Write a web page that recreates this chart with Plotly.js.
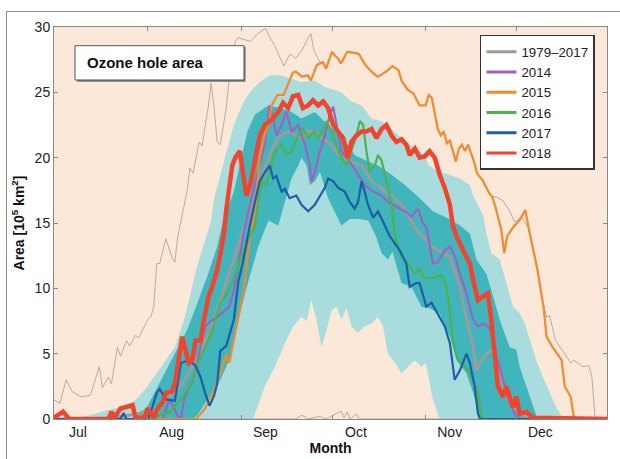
<!DOCTYPE html>
<html>
<head>
<meta charset="utf-8">
<script src="https://cdn.plot.ly/plotly-3.0.1.min.js"></script>
<style>
  html, body { margin: 0; padding: 0; background: #ffffff; }
  #frame { position: absolute; left: 6px; top: 11px; width: 640px; height: 480px;
           border-top: 1px solid #8c8c8c; border-left: 1px solid #8c8c8c; }
  #chart { position: absolute; left: 0; top: 0; width: 620px; height: 459px; }
</style>
</head>
<body>
<div id="frame"></div>
<div id="chart"></div>
<script>
// Days counted from 1 July; area in units of 10^5 km^2.
const monthStart = [0, 31, 62, 92, 123, 153];
const monthNames = ['Jul', 'Aug', 'Sep', 'Oct', 'Nov', 'Dec'];
const areaTicks = [0, 5, 10, 15, 20, 25, 30];

// 1979–2017 climatology: outer (light) and inner (dark) percentile bands
const lightLowDay  = [0,66,66.5,69.8,73.1,76.4,79.1,81.9,83.6,85.2,86.9,88.5,90.2,91.8,93.5,95.1,96.8,98.4,100.6,102.8,105.1,107.2,108.9,110.5,112.8,115,117.2,119.4,121.6,123,125.4,127.6,183];
const lightLowArea = [0,0,0.4,2.5,4.0,5.8,7.1,7.8,7.5,9.1,7.6,5.5,6.8,8.3,8.6,7.6,8.5,7.1,6.6,7.1,7.3,7.8,7.1,5.0,4.3,3.5,4.0,4.5,4.0,4.3,1.45,0,0];
const lightUpDay   = [0,7,12,18,22,27,31,33,40,43,45,47,50,52,53,56,59.5,62.8,64.8,68.1,71.4,74.7,78,81.9,86.3,89.6,95.1,98.4,101.8,105.1,108.4,111.7,115,119.4,122.7,124,127.6,131,134.3,137.6,138.7,142,143.1,144.7,147.5,151.9,154.1,155.8,159.6,161.8,164,166.2,168.4,170,183];
const lightUpArea  = [0,0.1,0.3,0.7,0.9,1.45,2.5,3.2,5.5,7.6,9.4,11.4,13.7,15.2,16.9,19.5,22.5,24.3,25.0,25.8,26.3,26.3,26.1,25.8,25.9,25.4,25.0,24.3,24.0,23.0,22.8,22.2,21.5,20.7,20.2,19.4,18.9,18.7,18.4,17.9,17.1,15.6,14.2,12.7,12.2,8.6,8.1,7.3,4.5,3.2,2.0,0.9,0.1,0,0];
const darkLowDay   = [0,46,47.5,50.7,55.1,57.9,60,63.2,65.4,67.6,69.8,71,74.2,76.4,78.6,80.8,81.9,83.6,84.7,86.3,88,90.7,92.9,95.1,98,101,104,106.5,108.4,110.5,112,115,118.3,121.6,124,127.6,131,133.2,136.5,138.7,140.9,183];
const darkLowArea  = [0,0,0.3,1.45,3.0,4.5,6.5,9.6,11.4,13.2,14.5,15.2,14.8,16.6,18.4,19.4,20.0,19.4,17.9,18.2,18.9,16.9,15.9,14.8,15.3,15.3,15.2,14.0,12.7,12.2,12.8,10.4,10.1,8.6,8.5,8.1,6.3,4.5,3.5,2.0,0,0];
const darkUpDay    = [0,25,28,31,32,36,44,47,51,54,56,59.5,62,64,66.5,70.9,75,78.6,81.9,86.3,90.7,95.1,99.5,103,107.2,111.7,116.1,120.5,125.4,130,134.3,137.6,139.8,143.1,145.3,147.5,150.8,153,154.1,156.3,158.5,160,183];
const darkUpArea   = [0,0,0.3,1.0,1.45,3.2,6.8,8.6,11.1,13.2,15.2,17.4,20.0,22.0,23.3,24.0,23.8,23.5,23.0,23.5,22.5,21.7,20.2,19.8,19.4,18.7,17.9,17.0,15.9,15.4,14.8,14.2,12.2,11.1,9.4,7.6,5.5,5.3,4.0,2.5,0.9,0,0];

// 1979–2017 daily minimum and maximum
const minDay  = [0,80,82,84,88,90,95,96,97,98,100,101,183];
const minArea = [0,0,0.3,0,0.2,0,0.6,0.1,0.55,0,0.4,0,0];
const maxDay  = [0,2,4,6,9,12,15,16,18,19,21,22,24,25,27,28,31,32,33,34,35,37,39,40,41,42,44,45,46,48,49,51,52,53,54,55,57,58,59,60,61,62,65,67,70,71,73,75,76,78,79,80,82,84,85,86,88,89,90,92,93,94,95,97,100,101,102,103,105,107,108,110,112,114,115,117,119,121,123,124,125,127,128,129,130,131,133,134,135,136,137,139,140,142,144,145,146.4,148.6,150.8,152.4,155,157,160,161.3,163,164,166,169.5,171,172,175,177,178,179,180,183];
const maxArea = [1.45,1.2,3.0,2.1,1.7,1.8,4.0,2.4,3.2,2.7,5.5,4.8,6.0,5.6,6.4,6.2,7.6,7.8,8.6,11.9,11.9,13.8,12.4,12.0,14.0,15.2,17.4,19.2,18.8,21.2,20.9,23.8,25.7,23.8,21.2,21.0,23.8,26.1,27.6,28.9,29.2,29.1,28.9,29.4,29.9,29.4,28.6,27.6,27.0,27.9,27.8,27.6,28.2,29.1,29.5,28.2,27.3,27.3,26.8,28.1,27.8,27.6,27.2,28.1,28.0,27.9,27.5,27.1,26.6,26.2,26.3,26.6,27.0,26.7,25.9,25.2,24.9,24.0,24.0,24.8,24.6,22.2,21.7,22.0,21.1,21.3,19.7,20.7,21.0,20.5,21.0,19.7,18.8,18.2,17.3,17.0,17.0,16.7,15.9,15.1,15.4,14.6,11.5,9.4,7.8,7.9,6.0,4.8,4.3,4.5,4.0,4.1,3.2,0.2,0,0];

// 1979–2017 mean
const meanDay  = [0,15,22,28,35,42,47,52,57,62,67,71,74,77.5,79.7,82,84,86.3,88.5,91.8,94,98.4,101.8,105.1,107.2,109.5,111.7,115,119.9,125,131,134.3,136.5,138.7,139.8,140.9,143.1,145.3,147.5,149.7,153,156.3,160,183];
const meanArea = [0,0,0.2,0.4,1.0,2.5,4.5,7.0,10.5,14.0,17.5,20.0,21.5,22.0,21.7,21.5,22.0,22.0,21.5,21.0,20.2,19.7,19.4,18.2,17.9,17.4,17.1,16.4,14.5,13.2,12.4,10.1,7.6,5.5,3.7,4.3,5.0,5.3,3.2,1.7,0.7,0.2,0,0];

// Individual seasons
const day2014  = [0,36,38,39,41,42,43,44,46,48,50,52,54,56,58,59.3,61,63,65,67,68.7,69.8,71.4,72.5,73.6,75.3,76.9,78.6,80.8,83,84.7,85.2,86.3,88,89.6,91.3,92.4,93.5,95.1,96.8,98.4,100.6,102.8,105,108.4,110.5,113.9,116.1,118.3,120.5,122,123.2,125.4,127,129.3,131,132.6,134.3,136.5,138.7,140.3,142.5,144.5,146,148,150,151.5,153,154,183];
const area2014 = [0,0,1.45,1.2,0.2,0,1.5,2.0,3.0,5.0,7.1,7.5,7.8,8.2,8.6,9.6,12.0,14.5,16.5,18.5,20.2,21.2,24.0,23.0,21.7,22.5,23.5,22.0,22.5,21.0,19.4,18.2,18.9,20.5,21.7,23.3,23.9,22.5,20.5,20.0,19.5,18.7,17.9,17.5,17.1,16.6,16.2,15.9,15.5,16.1,15.0,14.7,11.9,12.0,12.9,13.2,12.5,11.1,9.6,7.6,7.1,7.3,6.8,5.2,3.5,1.8,0.9,0.2,0,0];

const day2015  = [0,47,50,53,55,57,58,59,61,63,64,66,67,68,70,71,72,74,76,79,80,82,84,85,87,89,90,92,93,94,95,97,100,101,102,103,105,107,108,110,112,114,115,117,119,121,123,124,125,127,128,129,130,131,133,134,135,136,137,139,140,142,144,145,146,147,148,149,150,152,154,156,157,160,162,163,165,168,169,171,172,173,183];
const area2015 = [0,0,0.8,2.2,3.5,4.9,4.3,5.5,7.6,10.1,12.5,15.2,16.9,20.0,22.0,22.5,24.0,24.8,24.8,26.5,26.6,26.2,26.3,25.9,27.1,27.3,26.8,28.1,27.8,27.6,27.2,28.1,28.0,27.9,27.5,27.1,26.6,26.2,26.3,26.6,27.0,26.7,25.9,25.2,24.9,24.0,24.0,24.8,24.6,22.2,21.7,22.0,21.1,21.3,19.7,20.7,21.0,20.5,21.0,19.7,18.8,18.2,17.3,17.0,16.3,15.5,14.5,12.7,14.0,14.7,15.2,16.0,14.7,11.4,8.6,6.3,5.5,4.5,2.5,1.7,0.2,0,0];

const day2016  = [0,33,35,38,42,45,48,52,55,57,60,62,64,66.5,68.1,69.2,70.3,71.5,73.1,75.3,76.9,78.6,80.8,82.4,84.1,86,87.4,89.1,90.2,91.8,93.5,95.1,96.8,98.4,100.1,101.2,102.3,103.4,104.5,106.2,107.2,108.4,110,111.7,112.8,115,117.2,119.4,121,122.5,125,128.2,129.9,131,132,133.7,136.5,138.7,140.3,141.4,142,183];
const area2016 = [0,0,0.3,0.5,1.5,2.5,4.5,6.5,8.9,9.5,11.0,12.5,13.5,14.8,17.4,18.2,17.9,19.0,20.5,21.0,20.2,20.5,21.7,22.2,21.5,22.0,21.5,22.2,22.8,22.0,21.0,20.0,19.4,20.5,21.7,22.8,22.5,20.5,18.9,19.4,20.2,19.8,18.2,16.4,14.0,12.4,11.9,11.1,11.5,10.8,10.8,11.0,10.1,8.3,6.0,4.5,3.9,3.0,2.0,0.2,0,0];

const day2017  = [0,22,23,24,31,32,34,35,37,40,42,45,47,48.5,50,51.5,53,54,55,57,59.5,61,62.5,64,64.8,66.5,68.1,69.8,71.4,72.5,73.6,75.3,76.4,78,80.2,81.9,84.1,86.3,88,89.6,90.7,92.4,94,96.2,97.9,99.5,100.6,101.8,102.8,103.9,105.6,107.2,108.9,111.1,114.4,116.6,117.7,119.9,121,123.2,124.9,127.6,129.3,131,132.6,134.3,136.5,137.6,139.2,140.3,141,183];
const area2017 = [0,0,0.45,0,0,0.5,2.0,2.3,1.5,1.4,4.3,4.5,4.0,3.2,2.0,1.0,1.8,2.7,5.2,5.6,7.6,10.5,12.0,14.0,14.8,16.6,18.2,18.9,19.4,18.4,18.6,17.4,17.6,16.9,17.1,16.4,15.9,16.4,17.1,17.7,18.4,18.2,17.7,17.4,16.6,16.1,16.6,18.2,17.4,16.4,15.4,15.9,15.1,14.0,12.9,11.9,10.1,10.4,10.4,8.6,8.9,7.8,7.1,5.8,3.0,3.7,5.0,4.3,2.5,0.4,0,0];

const day2018  = [0,3,5,18,19,20,22,24,26,27,30,31,33,34,36,37,39,40,41.3,42.4,44.6,45.7,46.9,48.5,49.6,51.2,52.3,54,55.1,56.2,57,58,59,60,61.5,62.6,63.7,65,66.5,68.1,69.8,72.5,74.2,75.8,77.5,79.1,80.8,82.4,84.1,85.7,87.4,89.1,90.7,92.4,94,95.7,97.3,98.4,100.1,101.8,103.4,105.1,106.7,108.4,110,111.7,113.3,115,116.6,117.7,119.4,121,122.7,124.3,126,127.6,129.3,131,132,133.2,135.4,137.6,139.2,140.3,142,143.6,144.7,145.8,146.9,148.6,149.7,151.9,153,154.1,156.3,158.5,183];
const area2018 = [0.1,0.55,0,0,0.55,0.1,0.8,0.9,1.05,0.1,0.1,0.8,0.1,0.7,1.3,2.0,2.1,2.7,5.0,6.3,4.3,4.5,6.0,6.0,7.6,9.4,10.1,11.4,12.7,14.2,16.0,17.8,19.4,20.0,20.5,18.7,17.1,18.0,20.0,21.7,22.5,23.0,23.5,24.2,23.8,24.7,24.8,23.8,24.0,24.4,24.0,24.3,23.8,22.5,22.0,21.5,20.0,21.2,21.7,22.0,22.0,22.2,21.5,22.2,22.5,21.7,21.2,21.4,21.0,20.2,20.7,20.0,20.1,20.5,20.0,18.7,17.7,16.4,14.8,14.0,12.9,11.9,10.1,9.1,9.4,9.6,7.6,5.0,2.5,1.7,2.5,0.9,1.7,0.4,0.55,0.1,0];

const legendNames = ['1979\u20132017', '2014', '2015', '2016', '2017', '2018'];
const legendColors = ['#9c9c9c', '#9f62c2', '#f5892e', '#4fb24c', '#1f5ea6', '#f2442d'];

const LIGHT = '#a9dcdc';
const DARK = '#40b5bb';

function band(x, y, fill, fillcolor) {
  return { x: x, y: y, mode: 'lines', line: { width: 0 }, fill: fill,
           fillcolor: fillcolor, showlegend: false, hoverinfo: 'skip' };
}
function line(x, y, color, width) {
  return { x: x, y: y, mode: 'lines', line: { color: color, width: width },
           showlegend: false, hoverinfo: 'skip' };
}

const traces = [
  band(lightLowDay, lightLowArea, 'none', LIGHT),
  band(lightUpDay, lightUpArea, 'tonexty', LIGHT),
  band(darkLowDay, darkLowArea, 'none', DARK),
  band(darkUpDay, darkUpArea, 'tonexty', DARK),
  line(minDay, minArea, '#b9aca2', 1),
  line(maxDay, maxArea, '#b9aca2', 1),
  line(meanDay, meanArea, legendColors[0], 3),
  line(day2014, area2014, legendColors[1], 2.2),
  line(day2015, area2015, legendColors[2], 2.2),
  line(day2016, area2016, legendColors[3], 2.2),
  line(day2017, area2017, legendColors[4], 2.2),
  line(day2018, area2018, legendColors[5], 4.5)
];

// legend keys share one stroke width
legendNames.forEach(function (name, i) {
  traces.push({ x: [null], y: [null], mode: 'lines', name: name,
                line: { color: legendColors[i], width: 3 },
                showlegend: true, hoverinfo: 'skip' });
});

const FONT = '"Liberation Sans", Arial, Helvetica, sans-serif';

const layout = {
  width: 620, height: 459,
  margin: { l: 54, r: 13, t: 27, b: 40 },
  paper_bgcolor: 'rgba(0,0,0,0)',
  plot_bgcolor: '#fbe8d9',
  font: { family: FONT, size: 14, color: '#222' },
  showlegend: true,
  xaxis: {
    range: [0, 183], tickmode: 'array', tickvals: monthStart, ticktext: monthNames,
    ticks: 'inside', ticklen: 4, tickcolor: '#888', tickwidth: 1,
    showline: true, linecolor: '#888', linewidth: 1, mirror: 'ticks',
    showgrid: false, zeroline: false, ticklabelshift: 24,
    title: { text: '<b>Month</b>', font: { size: 14, color: '#111' }, standoff: 4 }
  },
  yaxis: {
    range: [0, 30], tickmode: 'array', tickvals: areaTicks,
    ticks: 'inside', ticklen: 4, tickcolor: '#888', tickwidth: 1,
    showline: true, linecolor: '#888', linewidth: 1, mirror: 'ticks',
    showgrid: false, zeroline: false,
    title: { text: '<b>Area [10<sup>5</sup> km<sup>2</sup>]</b>', font: { size: 14, color: '#111' }, standoff: 6 }
  },
  legend: {
    x: 0.7703, y: 0.9796, xanchor: 'left', yanchor: 'top',
    bgcolor: '#ffffff', bordercolor: '#333', borderwidth: 1.5,
    font: { family: FONT, size: 13.3, color: '#222' },
    itemwidth: 30, traceorder: 'normal'
  },
  shapes: [
    { type: 'rect', xref: 'paper', yref: 'paper', x0: 0.0416, x1: 0.3464, y0: 0.8605, y1: 0.9490,
      fillcolor: '#777', line: { width: 0 } },
    { type: 'rect', xref: 'paper', yref: 'paper', x0: 0.0380, x1: 0.3436, y0: 0.8648, y1: 0.9523,
      fillcolor: '#ffffff', line: { color: '#555', width: 1 } }
  ],
  annotations: [
    { xref: 'paper', yref: 'paper', x: 0.0555, y: 0.9094, xanchor: 'left', yanchor: 'middle',
      text: '<b>Ozone hole area</b>', showarrow: false, font: { family: FONT, size: 15, color: '#111' } }
  ]
};

Plotly.newPlot('chart', traces, layout, { staticPlot: true, displayModeBar: false });
</script>
</body>
</html>
